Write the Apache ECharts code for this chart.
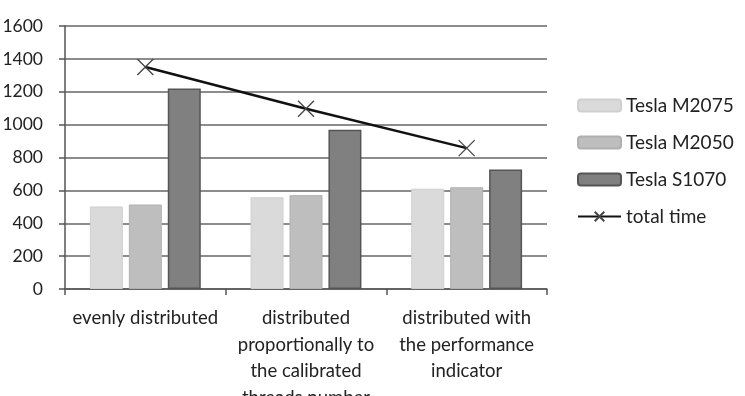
<!DOCTYPE html>
<html>
<head>
<meta charset="utf-8">
<script src="https://cdn.jsdelivr.net/npm/echarts@6/dist/echarts.min.js"></script>
<style>html,body{margin:0;padding:0;background:#fff;}#c{width:745px;height:396px;}</style>
</head>
<body>
<div id="c"></div>
<script>
const categories = ['evenly distributed', 'distributed\nproportionally to\nthe calibrated\nthreads number', 'distributed with\nthe performance\nindicator'];
const m2075 = [502, 558, 610];
const m2050 = [514, 571, 619];
const s1070 = [1220, 969, 727];
const totalTime = [1351, 1097, 857];
const yTicks = [0, 200, 400, 600, 800, 1000, 1200, 1400, 1600];

const font = 'Lato, "Open Sans", sans-serif';
const chart = echarts.init(document.getElementById('c'));
chart.setOption({
  animation: false,
  backgroundColor: '#fff',
  grid: { left: 65, right: 198, top: 26, bottom: 107, containLabel: false, outerBoundsMode: 'none' },
  legend: {
    orient: 'vertical', left: 572, top: 91,
    itemWidth: 43, itemHeight: 12, itemGap: 18,
    textStyle: { fontFamily: font, fontSize: 19, color: '#222' },
    data: ['Tesla M2075', 'Tesla M2050', 'Tesla S1070', 'total time']
  },
  xAxis: {
    type: 'category', data: categories, boundaryGap: true,
    axisLine: { lineStyle: { color: '#555', width: 1.5 } },
    axisTick: { show: true, length: 6, lineStyle: { color: '#555', width: 1.5 } },
    axisLabel: { interval: 0, margin: 16, fontFamily: font, fontSize: 18.5, color: '#222', lineHeight: 26.5 }
  },
  yAxis: {
    type: 'value', min: yTicks[0], max: yTicks[yTicks.length - 1], interval: 200,
    axisLine: { show: true, lineStyle: { color: '#555', width: 1.5 } },
    axisTick: { show: true, length: 6, lineStyle: { color: '#555', width: 1.5 } },
    axisLabel: { margin: 22, fontFamily: font, fontSize: 17.5, color: '#222', formatter: v => String(v) },
    splitLine: { lineStyle: { color: '#666', width: 1.5 } }
  },
  series: [
    { name: 'Tesla M2075', type: 'bar', data: m2075, barWidth: 33, barGap: '18%',
      itemStyle: { color: '#dadada', borderColor: '#cfcfcf', borderWidth: 1 } },
    { name: 'Tesla M2050', type: 'bar', data: m2050, barWidth: 33, barGap: '18%',
      itemStyle: { color: '#bebebe', borderColor: '#b0b0b0', borderWidth: 1 } },
    { name: 'Tesla S1070', type: 'bar', data: s1070, barWidth: 33, barGap: '18%',
      itemStyle: { color: '#808080', borderColor: '#555', borderWidth: 1.5 } },
    { name: 'total time', type: 'line', data: totalTime,
      symbol: 'path://M0,0 L10,10 M10,0 L0,10', symbolSize: 16,
      lineStyle: { color: '#111', width: 2.5 },
      itemStyle: { color: 'rgba(0,0,0,0)', borderColor: '#444', borderWidth: 1.3 } }
  ]
});
</script>
</body>
</html>
